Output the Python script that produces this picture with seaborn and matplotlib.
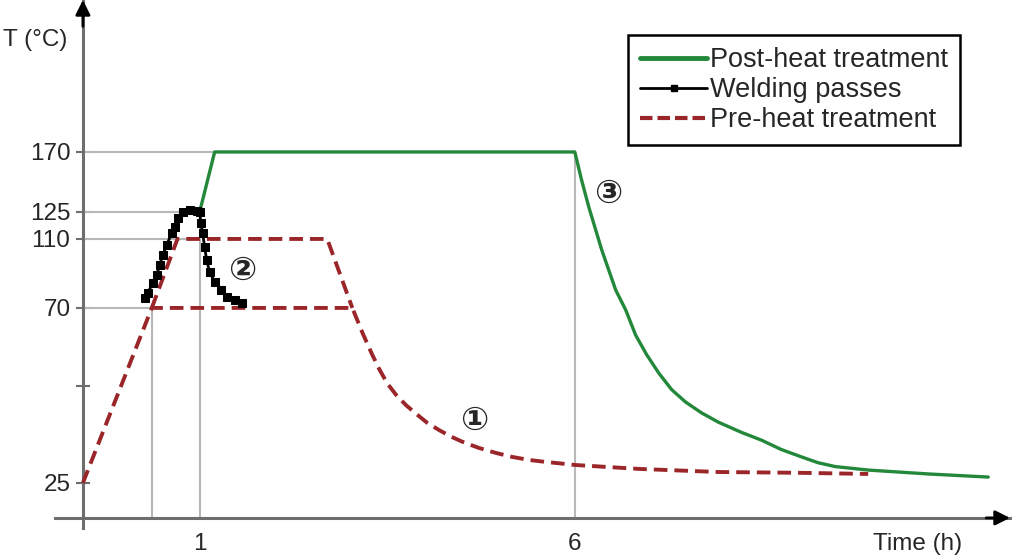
import numpy as np
import pandas as pd
import matplotlib
matplotlib.use("Agg")
import matplotlib.pyplot as plt
import seaborn as sns
from matplotlib.lines import Line2D

post_t = [1.0, 1.2, 6.0, 6.09, 6.186, 6.359, 6.452, 6.545, 6.678, 6.811, 6.957,
          7.117, 7.29, 7.476, 7.69, 7.915, 8.22, 8.487, 8.75, 9.019, 9.24, 9.47,
          9.91, 10.71, 11.51]
post_T = [125, 170, 170, 149.0, 128.8, 103.6, 92.0, 80.4, 69.5, 63.0, 58.0,
          53.3, 49.0, 45.8, 43.0, 40.6, 38.0, 36.0, 33.6, 31.7, 30.2, 29.2,
          28.3, 27.3, 26.5]

weld_t = [0.53, 0.556, 0.598, 0.632, 0.658, 0.684, 0.718, 0.761, 0.786, 0.812,
          0.855, 0.915, 0.974, 1.0, 1.017, 1.04, 1.066, 1.093, 1.133, 1.2, 1.29,
          1.37, 1.465, 1.56]
weld_T = [75.8, 78.7, 84.5, 89.1, 94.9, 100.7, 106.5, 113.3, 116.7, 121.7, 125,
          126.5, 125.8, 125, 118.9, 113.3, 105.4, 97.8, 90.9, 85.1, 80.4, 76.4,
          74.6, 72.9]

pre70_t = [0, 0.59, 3.035, 3.17, 3.29, 3.39, 3.50, 3.62, 3.75, 3.89, 4.03, 4.19,
           4.35, 4.50, 4.72, 4.95, 5.16, 5.39, 5.61, 6.01, 6.85, 7.91, 8.98, 9.91]
pre70_T = [25, 70, 70, 63.6, 58.4, 54.4, 50.6, 47.6, 45.0, 42.7, 40.5, 38.6,
           36.9, 35.6, 34.0, 32.7, 31.7, 30.9, 30.4, 29.6, 28.6, 27.8, 27.6, 27.3]

pre110_t = [0.59, 0.81, 2.70, 3.035]
pre110_T = [70, 110, 110, 70]

y_ticks = [25, 50, 70, 110, 125, 170]
y_labels = ["25", "", "70", "110", "125", "170"]
x_ticks = [1, 6]
x_labels = ["1", "6"]

# lignes de repère : (temperature, temps jusqu'où va la ligne)
h_guides = [(70, 0.59), (110, 1.0), (125, 0.86), (170, 1.2)]
v_guides = [(0.59, 70), (1.0, 125), (6.0, 170)]

# Echelles non linéaires du schéma
X_T = [-5, 0, 1, 6, 30]
X_P = [-585, 0, 117, 493, 493 + 24 * 75.2]
Y_T = [-200, 25, 70, 110, 125, 170, 600]
Y_P = [-875, 0, 175, 244, 271, 331, 904.3]


def fx(t):
    return np.interp(t, X_T, X_P)


def fx_inv(p):
    return np.interp(p, X_P, X_T)


def fy(T):
    return np.interp(T, Y_T, Y_P)


def fy_inv(p):
    return np.interp(p, Y_P, Y_T)


GREEN = "#23883a"
RED = "#9b2629"
GRID = "#b8b8b8"
AXIS = "#6e6e6e"
X_AXIS_T = 16.0
FS = 17.5

sns.set_theme(style="white")
plt.rcParams["font.family"] = ["Liberation Sans", "DejaVu Sans"]

fig = plt.figure(figsize=(10.24, 5.58), dpi=100)
ax = fig.add_axes([55 / 1024, 30 / 558, 955 / 1024, 528 / 558])
ax.set_xscale("function", functions=(fx, fx_inv))
ax.set_yscale("function", functions=(fy, fy_inv))
ax.set_xlim(-0.239, 11.8)
ax.set_ylim(13.4, 284)

for T, t in h_guides:
    ax.plot([0, t], [T, T], color=GRID, lw=1.5, zorder=1)
for t, T in v_guides:
    ax.plot([t, t], [X_AXIS_T, T], color=GRID, lw=1.5, zorder=1)

df_pre70 = pd.DataFrame({"t": pre70_t, "T": pre70_T})
df_pre110 = pd.DataFrame({"t": pre110_t, "T": pre110_T})
df_post = pd.DataFrame({"t": post_t, "T": post_T})
df_weld = pd.DataFrame({"t": weld_t, "T": weld_T})

sns.lineplot(data=df_pre70, x="t", y="T", ax=ax, color=RED, lw=2.8,
             sort=False, estimator=None, zorder=3)
sns.lineplot(data=df_pre110, x="t", y="T", ax=ax, color=RED, lw=2.8,
             sort=False, estimator=None, zorder=3)
for line in ax.lines[-2:]:
    line.set_dashes((3.5, 1.8))
sns.lineplot(data=df_post, x="t", y="T", ax=ax, color=GREEN, lw=2.4,
             sort=False, estimator=None, zorder=4)
sns.lineplot(data=df_weld, x="t", y="T", ax=ax, color="black", lw=2.0,
             marker="s", markersize=6, markeredgecolor="black",
             sort=False, estimator=None, zorder=5)

# axes avec flèches
for s in ["top", "right"]:
    ax.spines[s].set_visible(False)
ax.spines["left"].set_position(("data", 0))
ax.spines["bottom"].set_position(("data", X_AXIS_T))
for s in ["left", "bottom"]:
    ax.spines[s].set_color(AXIS)
    ax.spines[s].set_linewidth(2.2)
ax.annotate("", xy=(1.0, X_AXIS_T), xytext=(0.975, X_AXIS_T),
            xycoords=ax.get_yaxis_transform(),
            arrowprops=dict(arrowstyle="-|>", color="black", lw=2,
                            mutation_scale=22, shrinkA=0, shrinkB=0))
ax.annotate("", xy=(0, 1.0), xytext=(0, 0.95),
            xycoords=ax.get_xaxis_transform(),
            arrowprops=dict(arrowstyle="-|>", color="black", lw=2,
                            mutation_scale=22, shrinkA=0, shrinkB=0))

ax.set_yticks(y_ticks)
ax.set_yticklabels(y_labels)
ax.set_xticks(x_ticks)
ax.set_xticklabels(x_labels)
ax.minorticks_off()
ax.tick_params(axis="y", direction="inout", length=10, width=1.5, color=AXIS,
               labelsize=FS, pad=4, left=True)
ax.tick_params(axis="x", length=0, labelsize=FS, pad=11, bottom=True)
ax.set_xlabel("")
ax.set_ylabel("")

fig.text(35 / 1024, 1 - 40 / 558, "T (°C)", fontsize=FS, ha="center", va="center")
fig.text(918 / 1024, 1 - 544 / 558, "Time (h)", fontsize=FS, ha="center", va="center")

circ = ["DejaVu Sans", "Noto Sans CJK SC"]
for t, T, s in [(4.66, 41.2, "①"), (1.57, 92, "②"), (6.45, 139.3, "③")]:
    ax.text(t, T, s, fontsize=24, fontweight="bold", ha="center", va="center",
            family=circ, zorder=6)

handles = [
    Line2D([], [], color=GREEN, lw=3.5),
    Line2D([], [], color="black", lw=2, marker="s", markersize=5, markevery=[1, 2, 3]),
    Line2D([], [], color=RED, lw=3, dashes=(3, 1.2)),
]
labels = ["Post-heat treatment", "Welding passes", "Pre-heat treatment"]
leg = ax.legend(handles, labels, loc="upper right", bbox_to_anchor=(0.948, 0.934),
                borderaxespad=0, fontsize=19.5, frameon=True, fancybox=False,
                framealpha=1, handlelength=2.5, handletextpad=0.1,
                labelspacing=0.15, borderpad=0.45)
leg.get_frame().set_edgecolor("black")
leg.get_frame().set_linewidth(1.8)

fig.savefig("out.png", dpi=100)
